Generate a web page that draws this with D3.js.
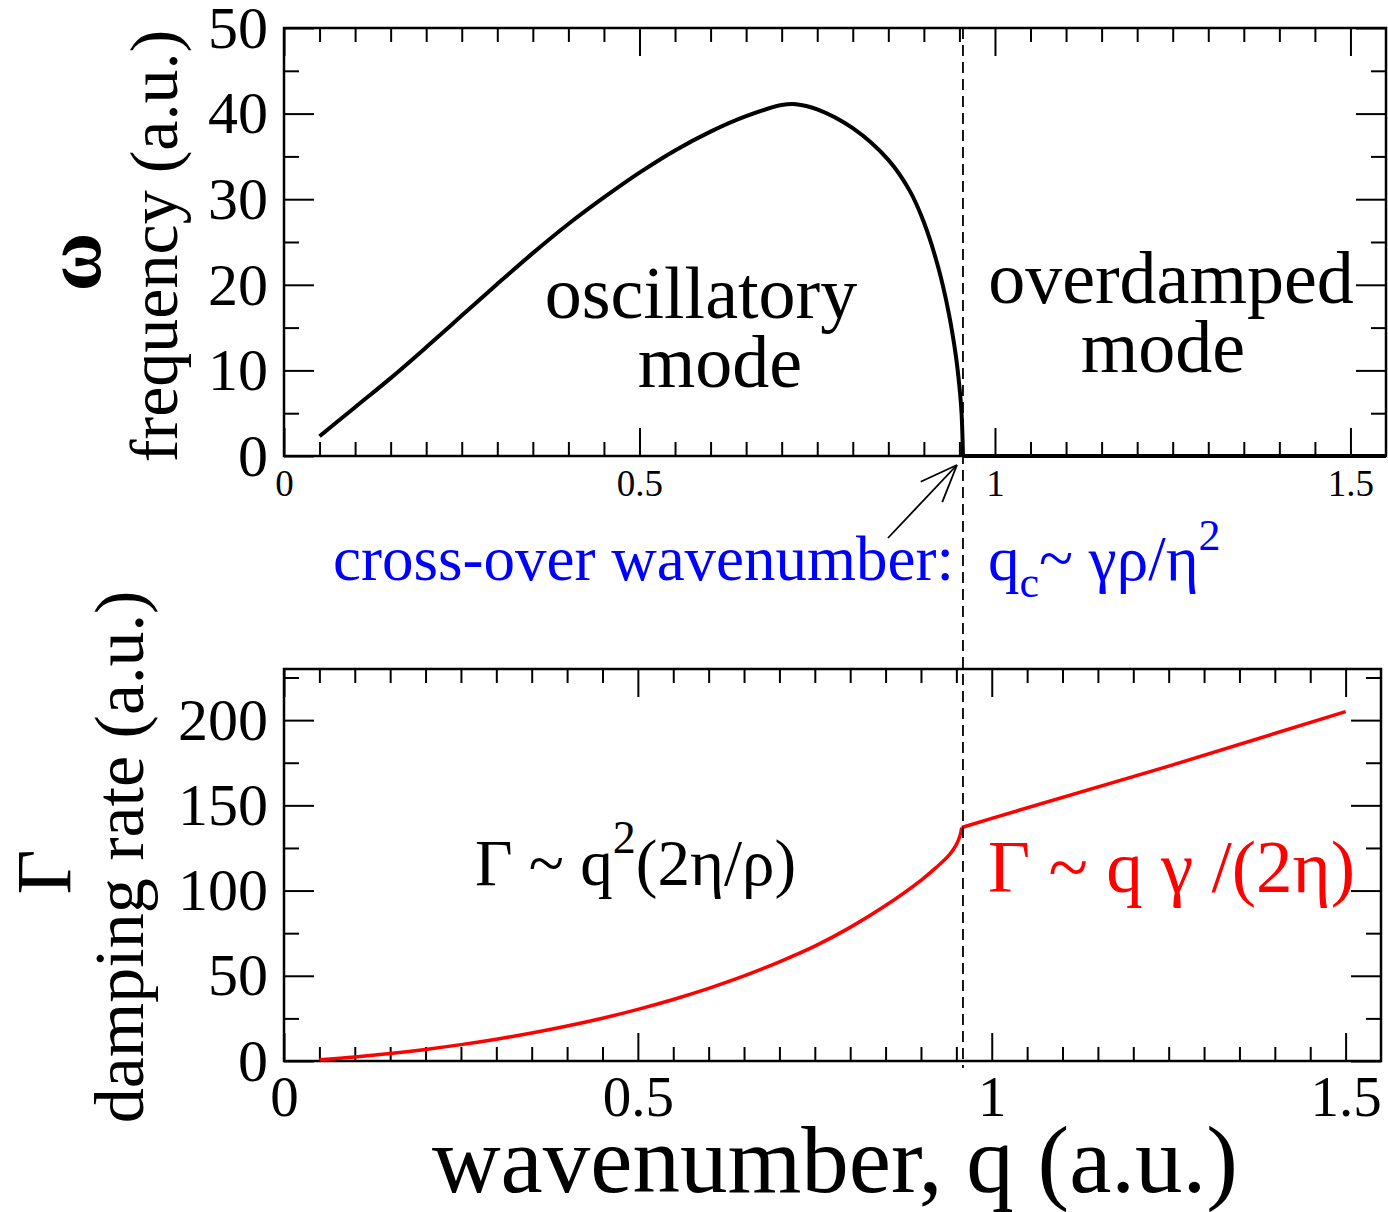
<!DOCTYPE html>
<html>
<head>
<meta charset="utf-8">
<script src="https://cdn.jsdelivr.net/npm/d3@7"></script>
<style>body{margin:0;background:#fff}</style>
</head>
<body>
<div id="chart"></div>
<script>
// tick labels
var qMajor = [0, 0.5, 1, 1.5]
var omegaTicks = [0, 10, 20, 30, 40, 50]
var gammaTicks = [0, 50, 100, 150, 200]

// top panel: frequency of the oscillatory mode
var qOsc = [0.05, 0.10, 0.15, 0.20, 0.25, 0.30, 0.35, 0.40, 0.45, 0.50, 0.55, 0.60, 0.65, 0.70, 0.72, 0.75, 0.80, 0.85, 0.88, 0.90, 0.92, 0.935, 0.945, 0.95, 0.953, 0.955]
var omegaOsc = [2.3, 5.7, 9.1, 12.7, 16.4, 20.1, 23.7, 27.1, 30.2, 33.1, 35.7, 37.9, 39.7, 41.0, 41.1, 40.5, 38.3, 34.6, 31.0, 27.3, 22.1, 16.7, 11.7, 8.1, 5.0, 0]
var qOver = [0.955, 1.55]
var omegaOver = [0, 0]

// bottom panel: damping rate
var qDampOsc = [0.05, 0.10, 0.15, 0.20, 0.25, 0.30, 0.35, 0.40, 0.45, 0.50, 0.55, 0.60, 0.65, 0.70, 0.75, 0.80, 0.85, 0.90, 0.92, 0.94, 0.95, 0.955, 0.9576]
var gammaOsc = [0.8, 2.4, 4.4, 6.8, 9.6, 12.8, 16.4, 20.5, 25.1, 30.3, 36.1, 42.6, 49.9, 58.2, 67.4, 78.4, 91.2, 106, 113, 121, 127, 132, 137]
var qDampOver = [0.9576, 1.0, 1.25, 1.5]
var gammaOver = [137, 142.4, 173, 205]

var qCross = 0.955

var serif = '"Liberation Serif", "DejaVu Serif", serif'
var W = 1388, H = 1212

var svg = d3.select('#chart').append('svg')
    .attr('width', W).attr('height', H)
    .style('display', 'block')
    .style('font-family', serif)

var xTop = d3.scaleLinear().domain([0, 1.55]).range([284, 1386])
var yTop = d3.scaleLinear().domain([0, 50]).range([456, 28])
var xBot = d3.scaleLinear().domain([0, 1.55]).range([284, 1381])
var yBot = d3.scaleLinear().domain([0, 230]).range([1061, 669])

var qMinor = d3.range(1, 31).map(i => i * 0.05).filter(v => Math.abs(v * 2 - Math.round(v * 2)) > 1e-6)

function styleAxis(g, size) {
    g.attr('font-family', serif).attr('font-size', size)
    g.select('.domain').remove()
    g.selectAll('line').attr('stroke', '#000').attr('stroke-width', 2)
    g.selectAll('text').attr('fill', '#000')
}

function panel(x, y, yMajor, yMinor, xSize, xPad, ySize) {
    var x0 = x.range()[0], x1 = x.range()[1], y0 = y.range()[0], y1 = y.range()[1]
    // bottom
    svg.append('g').attr('transform', `translate(0,${y0})`)
        .call(d3.axisBottom(x).tickValues(qMinor).tickSize(-14).tickFormat(''))
        .call(g => styleAxis(g, xSize))
    svg.append('g').attr('transform', `translate(0,${y0})`)
        .call(d3.axisBottom(x).tickValues(qMajor).tickSize(-28).tickPadding(xPad).tickFormat(d3.format('')))
        .call(g => styleAxis(g, xSize))
    // top
    svg.append('g').attr('transform', `translate(0,${y1})`)
        .call(d3.axisTop(x).tickValues(qMinor).tickSize(-14).tickFormat(''))
        .call(g => styleAxis(g, xSize))
    svg.append('g').attr('transform', `translate(0,${y1})`)
        .call(d3.axisTop(x).tickValues(qMajor).tickSize(-28).tickFormat(''))
        .call(g => styleAxis(g, xSize))
    // left
    svg.append('g').attr('transform', `translate(${x0},0)`)
        .call(d3.axisLeft(y).tickValues(yMinor).tickSize(-15).tickFormat(''))
        .call(g => styleAxis(g, ySize))
    svg.append('g').attr('transform', `translate(${x0},0)`)
        .call(d3.axisLeft(y).tickValues(yMajor).tickSize(-30).tickPadding(16).tickFormat(d3.format('d')))
        .call(g => styleAxis(g, ySize))
    // right
    svg.append('g').attr('transform', `translate(${x1},0)`)
        .call(d3.axisRight(y).tickValues(yMinor).tickSize(-15).tickFormat(''))
        .call(g => styleAxis(g, ySize))
    svg.append('g').attr('transform', `translate(${x1},0)`)
        .call(d3.axisRight(y).tickValues(yMajor).tickSize(-30).tickFormat(''))
        .call(g => styleAxis(g, ySize))
    svg.append('rect')
        .attr('x', x0).attr('y', y1)
        .attr('width', x1 - x0).attr('height', y0 - y1)
        .attr('fill', 'none').attr('stroke', '#000').attr('stroke-width', 2.5)
}

panel(xTop, yTop, omegaTicks, [5, 15, 25, 35, 45], 37, 14, 60)
panel(xBot, yBot, gammaTicks, [25, 75, 125, 175, 225], 57, 15, 60)

// curves
var lineTop = d3.line().x(d => xTop(d[0])).y(d => yTop(d[1])).curve(d3.curveCatmullRom.alpha(0.5))
var lineBot = d3.line().x(d => xBot(d[0])).y(d => yBot(d[1])).curve(d3.curveCatmullRom.alpha(0.5))

svg.append('path')
    .datum(d3.zip(qOsc, omegaOsc))
    .attr('d', lineTop)
    .attr('fill', 'none').attr('stroke', '#000').attr('stroke-width', 4)
svg.append('path')
    .datum(d3.zip(qOver, omegaOver))
    .attr('d', lineTop)
    .attr('fill', 'none').attr('stroke', '#000').attr('stroke-width', 4)

svg.append('path')
    .datum(d3.zip(qDampOsc, gammaOsc))
    .attr('d', lineBot)
    .attr('fill', 'none').attr('stroke', '#ff0000').attr('stroke-width', 3.5)
svg.append('path')
    .datum(d3.zip(qDampOver, gammaOver))
    .attr('d', d3.line().x(d => xBot(d[0])).y(d => yBot(d[1])))
    .attr('fill', 'none').attr('stroke', '#ff0000').attr('stroke-width', 3.5)

// cross-over dashed line
var xc = xTop(qCross)
svg.append('line')
    .attr('x1', xc).attr('x2', xc)
    .attr('y1', yTop(50)).attr('y2', yBot(0) + 7)
    .attr('stroke', '#000').attr('stroke-width', 1.8)
    .attr('stroke-dasharray', '11,6')

// arrow
var tipX = xc - 6, tipY = yTop(0) + 9
var tailX = tipX - 69, tailY = tipY + 73
svg.append('line')
    .attr('x1', tailX).attr('y1', tailY).attr('x2', tipX).attr('y2', tipY)
    .attr('stroke', '#000').attr('stroke-width', 1.8)
var ang = Math.atan2(tipY - tailY, tipX - tailX)
;[ang + Math.PI - 0.38, ang + Math.PI + 0.38].forEach(a => {
    svg.append('line')
        .attr('x1', tipX).attr('y1', tipY)
        .attr('x2', tipX + 40 * Math.cos(a)).attr('y2', tipY + 40 * Math.sin(a))
        .attr('stroke', '#000').attr('stroke-width', 1.8)
})

// axis titles
svg.append('text')
    .attr('transform', 'translate(100,262) rotate(-90)')
    .attr('text-anchor', 'middle').attr('font-size', 80).attr('font-weight', 'bold')
    .text('ω')
svg.append('text')
    .attr('transform', 'translate(177,246) rotate(-90)')
    .attr('text-anchor', 'middle').attr('font-size', 68)
    .text('frequency (a.u.)')
svg.append('text')
    .attr('transform', 'translate(70,872) rotate(-90)')
    .attr('text-anchor', 'middle').attr('font-size', 78)
    .text('Γ')
svg.append('text')
    .attr('transform', 'translate(143,857) rotate(-90)')
    .attr('text-anchor', 'middle').attr('font-size', 70)
    .text('damping rate (a.u.)')
svg.append('text')
    .attr('x', 835).attr('y', 1192)
    .attr('text-anchor', 'middle').attr('font-size', 95)
    .text('wavenumber, q (a.u.)')

// mode labels
function label(t, x, y, size, color) {
    svg.append('text').attr('x', x).attr('y', y)
        .attr('text-anchor', 'middle').attr('font-size', size).attr('fill', color || '#000')
        .text(t)
}
label('oscillatory', 701, 318, 74)
label('mode', 720, 387, 74)
label('overdamped', 1171, 303, 74)
label('mode', 1163, 372, 74)

// cross-over annotation
svg.append('text').attr('x', 333).attr('y', 580)
    .attr('font-size', 63).attr('fill', '#0000ff')
    .text('cross-over wavenumber:')
var qc = svg.append('text').attr('x', 988).attr('y', 580)
    .attr('font-size', 63).attr('fill', '#0000ff')
qc.append('tspan').text('q')
qc.append('tspan').attr('dy', 17).attr('font-size', 44).text('c')
qc.append('tspan').attr('dy', -17).text('~ γρ/η')
qc.append('tspan').attr('dy', -30).attr('font-size', 44).text('2')

// damping annotations
var g1 = svg.append('text').attr('x', 475).attr('y', 885).attr('font-size', 65)
g1.append('tspan').text('Γ ~ q')
g1.append('tspan').attr('dy', -32).attr('font-size', 46).text('2')
g1.append('tspan').attr('dy', 32).text('(2η/ρ)')

svg.append('text').attr('x', 988).attr('y', 892)
    .attr('font-size', 73).attr('fill', '#ff0000')
    .text('Γ ~ q γ /(2η)')
</script>
</body>
</html>
